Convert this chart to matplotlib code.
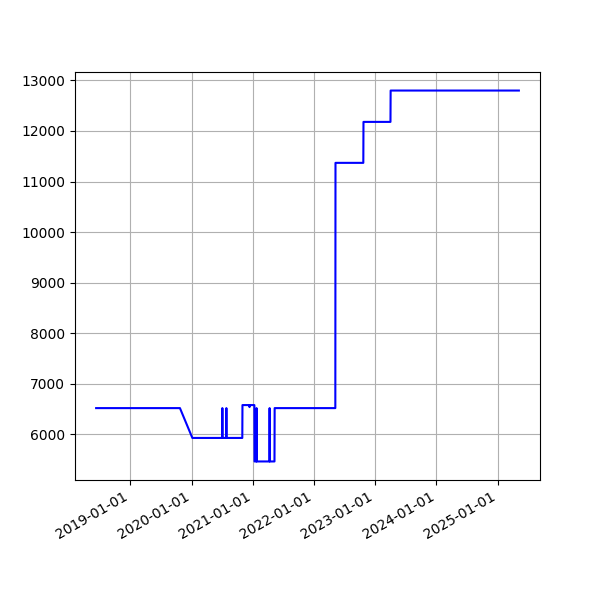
import pandas as pd
import matplotlib
matplotlib.use("Agg")
import matplotlib.pyplot as plt
import matplotlib.dates as mdates

# puntos de la serie (fecha, valor)
fechas = [
    "2018-06-11", "2019-10-24", "2020-01-06", "2020-07-02", "2020-07-03",
    "2020-07-04", "2020-07-26", "2020-07-27", "2020-07-28", "2020-10-30",
    "2020-10-31", "2020-12-11", "2020-12-12", "2020-12-13", "2021-01-10",
    "2021-01-11", "2021-01-22", "2021-01-23", "2021-01-24", "2021-04-10",
    "2021-04-11", "2021-04-12", "2021-05-10", "2021-05-11", "2022-05-08",
    "2022-05-09", "2022-10-22", "2022-10-23", "2023-04-02", "2023-04-03",
    "2025-05-07",
]
valores = [
    6520, 6520, 5930, 5930, 6520,
    5930, 5930, 6520, 5930, 5930,
    6580, 6580, 6540, 6580, 6580,
    5465, 5465, 6520, 5465, 5465,
    6520, 5465, 5465, 6520, 6520,
    11370, 11370, 12180, 12180, 12800,
    12800,
]

fechas = pd.to_datetime(fechas)

fig, ax = plt.subplots(figsize=(6, 6), dpi=100)
ax.plot(fechas, valores, color="blue")
ax.grid(True)
ax.xaxis.set_major_locator(mdates.YearLocator())
ax.xaxis.set_major_formatter(mdates.DateFormatter("%Y-%m-%d"))
fig.autofmt_xdate()
fig.savefig("out.png")
